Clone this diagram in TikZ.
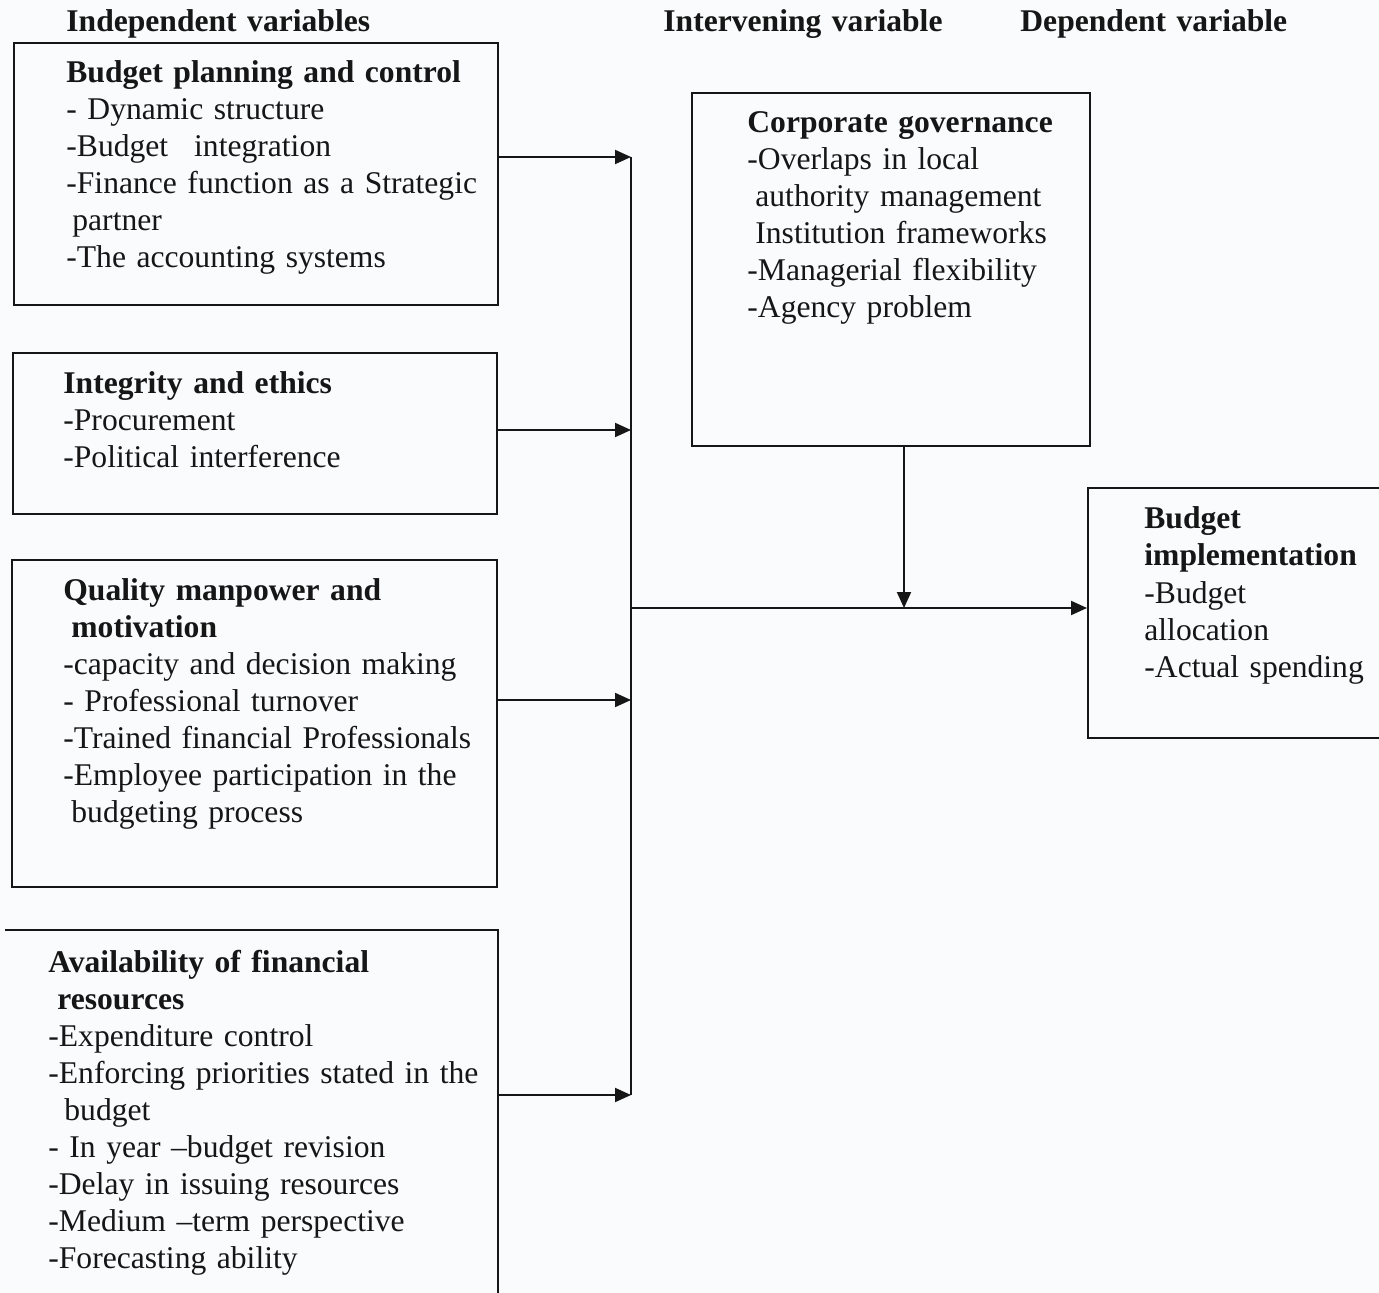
\documentclass[tikz,border=0pt]{standalone}
\usepackage{fontspec}
\setmainfont{Liberation Serif}
\usetikzlibrary{arrows.meta,fit}
\definecolor{paper}{RGB}{249,251,252}
\definecolor{ink}{RGB}{22,22,22}
\tikzset{
  varbox/.style={draw=ink, line width=1pt, inner sep=0pt},
  vartext/.style={anchor=base west, inner sep=0pt, text width=300pt, align=left, text=ink, font=\fontsize{15.8}{18.5}\selectfont},
  flow/.style={draw=ink, line width=1pt, -{Triangle[length=8pt,width=7pt]}},
  bus/.style={draw=ink, line width=1pt}
}
\begin{document}
\begin{tikzpicture}[x=0.5pt,y=-0.5pt]
\fill[paper] (0,0) rectangle (1379,1293);
\useasboundingbox (0,0) rectangle (1379,1293);

\node[vartext] (indephead) at (66,32) {\textbf{Independent variables}};
\node[vartext] (intervhead) at (663,32) {\textbf{Intervening variable}};
\node[vartext] (dephead) at (1020,32) {\textbf{Dependent variable}};

\node[varbox, fit={(14,43) (498,305)}] (planning) {};
\node[varbox, fit={(13,353) (497,514)}] (integrity) {};
\node[varbox, fit={(12,560) (497,887)}] (quality) {};
\draw[bus] (5,930) -| (498,1310);
\coordinate (resources) at (498,1095);
\node[varbox, fit={(692,93) (1090,446)}] (governance) {};
\node[varbox, fit={(1088,488) (1400,738)}] (implementation) {};

\node[vartext] (planningtext) at (66,83) {\textbf{Budget planning and control}\\
- Dynamic structure\\
-Budget\hspace{13pt}integration\\
-Finance function as a Strategic\\
\hspace*{3pt}partner\\
-The accounting systems};
\node[vartext] (integritytext) at (63,394) {\textbf{Integrity and ethics}\\
-Procurement\\
-Political interference};
\node[vartext] (qualitytext) at (63,600) {\textbf{Quality manpower and}\\
\hspace*{4pt}\textbf{motivation}\\
-capacity and decision making\\
- Professional turnover\\
-Trained financial Professionals\\
-Employee participation in the\\
\hspace*{4pt}budgeting process};
\node[vartext] (resourcestext) at (48,972) {\textbf{Availability of financial}\\
\hspace*{4.5pt}\textbf{resources}\\
-Expenditure control\\
-Enforcing priorities stated in the\\
\hspace*{8pt}budget\\
- In year –budget revision\\
-Delay in issuing resources\\
-Medium –term perspective\\
-Forecasting ability};
\node[vartext] (governancetext) at (747,133) {\textbf{Corporate governance}\\
-Overlaps in local\\
\hspace*{4pt}authority management\\
\hspace*{4pt}Institution frameworks\\
-Managerial flexibility\\
-Agency problem};
\node[vartext] (implementationtext) at (1144,529) {\textbf{Budget}\\
\textbf{implementation}\\
-Budget\\
allocation\\
-Actual spending};

\coordinate (b1) at (631,157);
\coordinate (b2) at (631,430);
\coordinate (b3) at (631,700);
\coordinate (b4) at (631,1095);
\coordinate (bm) at (631,608);
\coordinate (gd) at (904,608);
\draw[bus] (b1) -- (b4);
\draw[flow] (planning.east |- b1) -- (b1);
\draw[flow] (integrity.east |- b2) -- (b2);
\draw[flow] (quality.east |- b3) -- (b3);
\draw[flow] (resources) -- (b4);
\draw[flow] (bm) -- (bm -| implementation.west);
\draw[flow] (governance.south -| gd) -- (gd);
\end{tikzpicture}
\end{document}
